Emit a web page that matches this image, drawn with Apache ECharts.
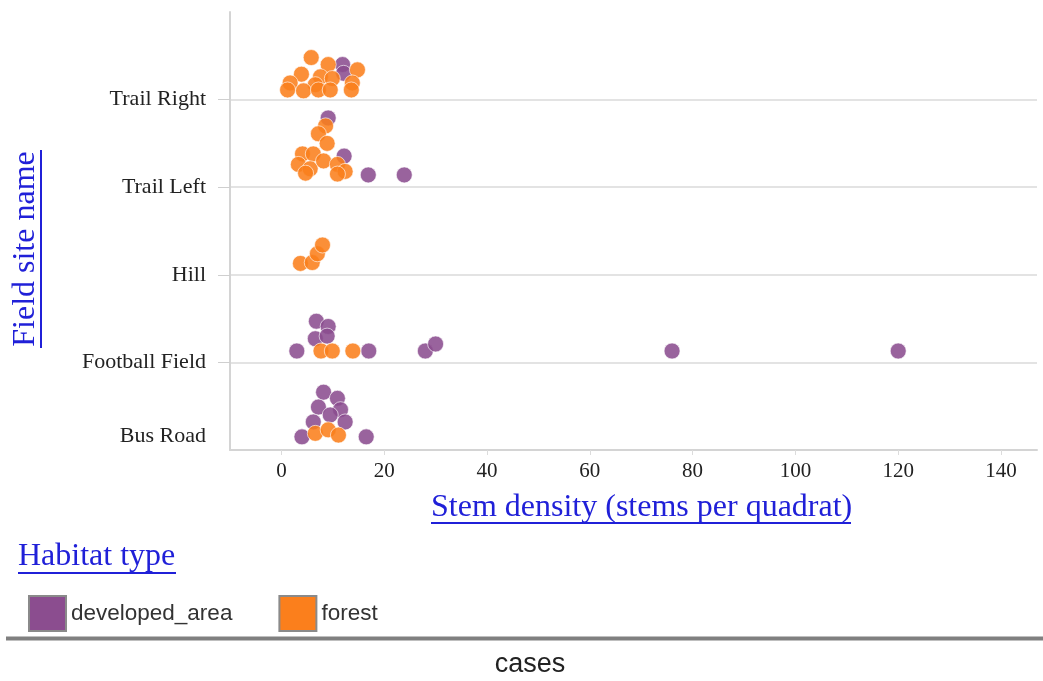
<!DOCTYPE html>
<html>
<head>
<meta charset="utf-8">
<title>Stem density by field site</title>
<script src="https://cdn.jsdelivr.net/npm/echarts@6/dist/echarts.min.js"></script>
<style>
  html, body { margin: 0; padding: 0; background: #fff; }
  #chart { width: 1043px; height: 681px; }
</style>
</head>
<body>
<div id="chart"></div>
<script>
// field sites, bottom to top
const sites = ["Bus Road", "Football Field", "Hill", "Trail Left", "Trail Right"]
const habitats = ["developed_area", "forest"]

// developed_area dots: stem density, site, stack lift inside the site band
const developedValue = [4, 16.5, 8.2, 10.9, 7.2, 11.5, 9.5, 6.2, 12.4,
  3, 17, 28, 30, 76, 120, 6.8, 9.1, 6.6, 8.9,
  9.1, 12.2, 16.9, 23.9,
  11.9, 12.1]
const developedSite = ["Bus Road", "Bus Road", "Bus Road", "Bus Road", "Bus Road", "Bus Road", "Bus Road", "Bus Road", "Bus Road",
  "Football Field", "Football Field", "Football Field", "Football Field", "Football Field", "Football Field", "Football Field", "Football Field", "Football Field", "Football Field",
  "Trail Left", "Trail Left", "Trail Left", "Trail Left",
  "Trail Right", "Trail Right"]
const developedLift = [0.15, 0.15, 0.66, 0.59, 0.49, 0.46, 0.40, 0.32, 0.32,
  0.13, 0.13, 0.13, 0.21, 0.13, 0.13, 0.47, 0.41, 0.27, 0.30,
  0.79, 0.355, 0.14, 0.14,
  0.40, 0.30]

// forest dots
const forestValue = [6.6, 9.1, 11.1,
  7.7, 9.9, 13.9,
  3.7, 6, 7, 8,
  8.6, 7.2, 8.9, 4.1, 6.2, 3.3, 5.6, 8.2, 10.9, 12.4, 4.7, 10.9,
  5.8, 9.1, 14.8, 3.9, 7.6, 9.9, 1.7, 6.6, 13.8, 1.2, 4.3, 7.2, 9.5, 13.6]
const forestSite = ["Bus Road", "Bus Road", "Bus Road",
  "Football Field", "Football Field", "Football Field",
  "Hill", "Hill", "Hill", "Hill",
  "Trail Left", "Trail Left", "Trail Left", "Trail Left", "Trail Left", "Trail Left", "Trail Left", "Trail Left", "Trail Left", "Trail Left", "Trail Left", "Trail Left",
  "Trail Right", "Trail Right", "Trail Right", "Trail Right", "Trail Right", "Trail Right", "Trail Right", "Trail Right", "Trail Right", "Trail Right", "Trail Right", "Trail Right", "Trail Right", "Trail Right"]
const forestLift = [0.19, 0.23, 0.17,
  0.13, 0.13, 0.13,
  0.13, 0.14, 0.24, 0.34,
  0.70, 0.61, 0.50, 0.38, 0.38, 0.26, 0.21, 0.30, 0.26, 0.18, 0.16, 0.15,
  0.48, 0.40, 0.34, 0.29, 0.26, 0.24, 0.19, 0.17, 0.19, 0.11, 0.10, 0.11, 0.11, 0.11]

const colors = ["#8b4d8f", "#fb7f1c"]
const blue = "#2020d8"
const serif = "\"Liberation Serif\", serif"
const sans = "\"Liberation Sans\", sans-serif"

const toPoints = (values, siteNames, lifts) =>
  values.map((v, i) => [v, sites.indexOf(siteNames[i]) + lifts[i]])

const chart = echarts.init(document.getElementById("chart"))

chart.setOption({
  animation: false,
  color: colors,
  grid: { left: 230, right: 6, top: 12, bottom: 231 },
  xAxis: {
    type: "value",
    min: -10,
    max: 147,
    splitNumber: 8,
    axisLine: { lineStyle: { color: "#d4d4d4", width: 2 } },
    axisTick: { length: 5, lineStyle: { color: "#dcdcdc" } },
    axisLabel: {
      showMinLabel: false,
      showMaxLabel: false,
      margin: 11,
      color: "#222",
      fontFamily: serif,
      fontSize: 21
    },
    splitLine: { show: false }
  },
  yAxis: {
    type: "value",
    min: 0,
    max: 5,
    interval: 1,
    axisLine: { show: true, onZero: false, lineStyle: { color: "#d4d4d4", width: 2 } },
    axisTick: {
      show: true,
      length: 12,
      customValues: [1, 2, 3, 4],
      lineStyle: { color: "#cfcfcf" }
    },
    axisLabel: {
      customValues: [0, 1, 2, 3, 4],
      margin: 24,
      formatter: v => (v === 0 ? "{low|" : "{n|") + sites[v] + "}",
      rich: {
        n: { color: "#222", fontFamily: serif, fontSize: 22 },
        low: { color: "#222", fontFamily: serif, fontSize: 22, padding: [0, 0, 28, 0] }
      }
    },
    splitLine: {
      show: true,
      lineStyle: { color: "#dadada", width: 1.5 }
    }
  },
  legend: {
    data: habitats,
    left: 23,
    top: 590,
    icon: "rect",
    itemWidth: 37,
    itemHeight: 35,
    itemGap: 46,
    itemStyle: { opacity: 1, borderColor: "#8a8a8a", borderWidth: 2 },
    textStyle: { color: "#333", fontFamily: sans, fontSize: 22.5, padding: [15, 0, 0, 0] }
  },
  series: [
    {
      name: habitats[0],
      type: "scatter",
      symbolSize: 16,
      data: toPoints(developedValue, developedSite, developedLift),
      itemStyle: { color: colors[0], opacity: 0.88, borderColor: "rgba(255,255,255,0.7)", borderWidth: 1 }
    },
    {
      name: habitats[1],
      type: "scatter",
      symbolSize: 16,
      data: toPoints(forestValue, forestSite, forestLift),
      itemStyle: { color: colors[1], opacity: 0.88, borderColor: "rgba(255,255,255,0.7)", borderWidth: 1 }
    }
  ],
  graphic: [
    {
      type: "text", left: 431, top: 492,
      style: { text: "Stem density (stems per quadrat)", font: "32px " + serif, fill: blue }
    },
    { type: "line", shape: { x1: 431, y1: 523, x2: 851, y2: 523 }, style: { stroke: blue, lineWidth: 2 } },
    {
      type: "text", x: 26, y: 249, rotation: Math.PI / 2,
      style: { text: "Field site name", font: "32px " + serif, fill: blue, align: "center", verticalAlign: "middle" }
    },
    { type: "line", shape: { x1: 41, y1: 150, x2: 41, y2: 348 }, style: { stroke: blue, lineWidth: 2 } },
    {
      type: "text", left: 18, top: 541,
      style: { text: "Habitat type", font: "32px " + serif, fill: blue }
    },
    { type: "line", shape: { x1: 18, y1: 573, x2: 176, y2: 573 }, style: { stroke: blue, lineWidth: 2 } },
    { type: "line", shape: { x1: 6, y1: 638.5, x2: 1043, y2: 638.5 }, style: { stroke: "#808080", lineWidth: 4 } },
    {
      type: "text", x: 530, y: 665,
      style: { text: "cases", font: "27px " + sans, fill: "#222", align: "center", verticalAlign: "middle" }
    }
  ]
})

window.addEventListener("resize", () => {
  chart.resize()
})
</script>
</body>
</html>
